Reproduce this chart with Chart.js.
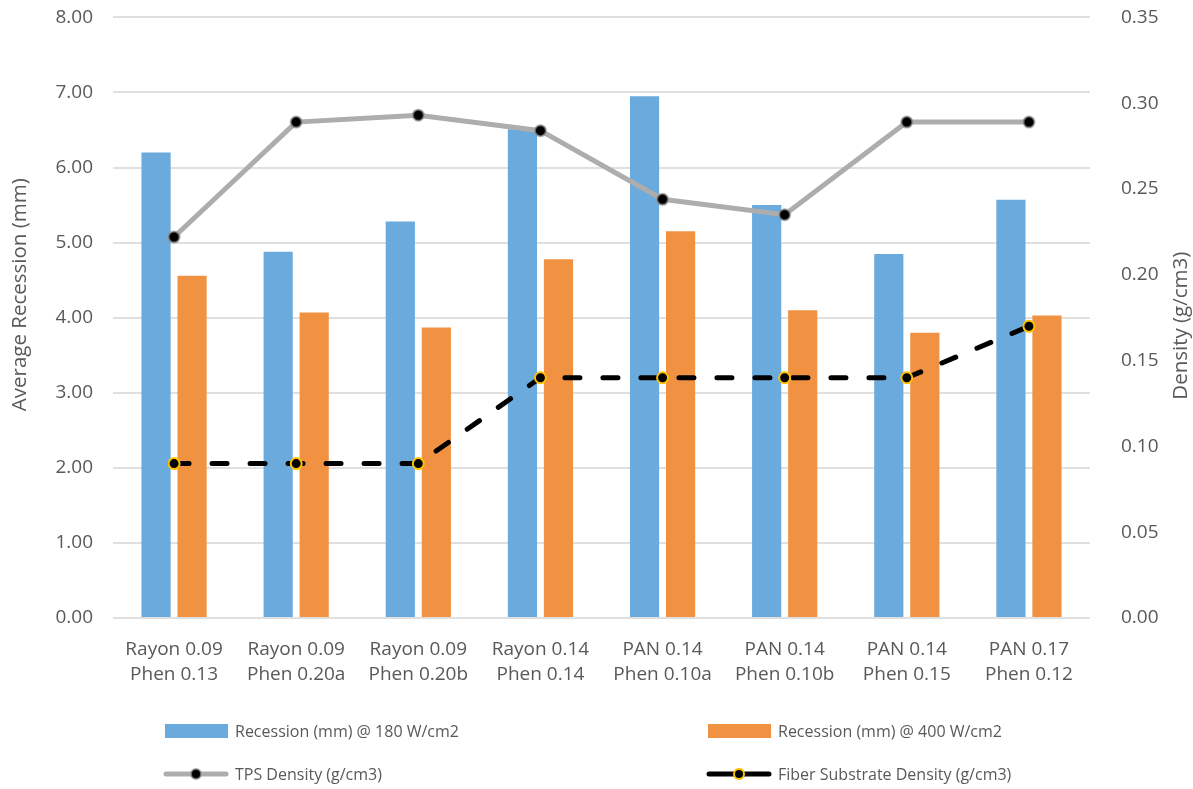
<!DOCTYPE html>
<html>
<head>
<meta charset="utf-8">
<script src="https://cdn.jsdelivr.net/npm/chart.js@4.4.1/dist/chart.umd.min.js"></script>
<style>
  body { margin: 0; background: #fff; }
  #wrap { position: relative; width: 1193px; height: 789px; overflow: hidden; }
  #chart { position: absolute; left: 0; top: -17px; }
  #legend { position: absolute; left: 0; top: 0; width: 1193px; height: 789px; pointer-events: none; }
  .item { position: absolute; display: flex; align-items: center; font: 16px "Open Sans", sans-serif; color: #595959; white-space: nowrap; }
  .item canvas { margin-right: 6px; }
</style>
</head>
<body>
<div id="wrap">
  <canvas id="chart" width="1193" height="717"></canvas>
  <div id="legend"></div>
</div>
<script>
const categories = [
  ["Rayon 0.09", "Phen 0.13"],
  ["Rayon 0.09", "Phen 0.20a"],
  ["Rayon 0.09", "Phen 0.20b"],
  ["Rayon 0.14", "Phen 0.14"],
  ["PAN 0.14", "Phen 0.10a"],
  ["PAN 0.14", "Phen 0.10b"],
  ["PAN 0.14", "Phen 0.15"],
  ["PAN 0.17", "Phen 0.12"],
];
const recession180 = [6.2, 4.88, 5.28, 6.51, 6.95, 5.5, 4.85, 5.57];
const recession400 = [4.56, 4.07, 3.87, 4.78, 5.15, 4.1, 3.8, 4.03];
const tpsDensity = [0.222, 0.289, 0.293, 0.284, 0.244, 0.235, 0.289, 0.289];
const fiberDensity = [0.09, 0.09, 0.09, 0.14, 0.14, 0.14, 0.14, 0.17];

const textColor = "#595959";
const font = { family: "'Open Sans', sans-serif", size: 19 };

// both axis titles read bottom-to-top; drawn by hand so they can sit where they should
function drawTitle(ctx, text, x, y) {
  ctx.save();
  ctx.translate(x, y);
  ctx.rotate(-Math.PI / 2);
  ctx.font = "20.5px 'Open Sans', sans-serif";
  ctx.fillStyle = textColor;
  ctx.textAlign = "center";
  ctx.textBaseline = "middle";
  ctx.fillText(text, 0, 0);
  ctx.restore();
}

const axisTitles = {
  id: "axisTitles",
  afterDraw(chart) {
    const mid = (chart.chartArea.top + chart.chartArea.bottom) / 2;
    drawTitle(chart.ctx, "Average Recession (mm)", 20, mid - 23);
    drawTitle(chart.ctx, "Density (g/cm3)", 1181, mid + 8);
  },
};

const ctx = document.getElementById("chart").getContext("2d");
const chart = new Chart(ctx, {
  type: "bar",
  data: {
    labels: categories,
    datasets: [
      {
        type: "line",
        label: "TPS Density (g/cm3)",
        data: tpsDensity,
        yAxisID: "y2",
        borderColor: "#adadad",
        borderWidth: 5,
        pointRadius: 5.5,
        pointBackgroundColor: "#000",
        pointBorderColor: "rgba(140,140,140,0.7)",
        pointBorderWidth: 2,
        order: 1,
      },
      {
        type: "line",
        label: "Fiber Substrate Density (g/cm3)",
        data: fiberDensity,
        yAxisID: "y2",
        borderColor: "#000",
        borderWidth: 5,
        borderDash: [15, 23],
        borderCapStyle: "round",
        pointRadius: 5.5,
        pointBackgroundColor: "#000",
        pointBorderColor: "#ffc000",
        pointBorderWidth: 2,
        order: 1,
      },
      {
        label: "Recession (mm) @ 180 W/cm2",
        data: recession180,
        backgroundColor: "#6aaadc",
        categoryPercentage: 0.59,
        barPercentage: 0.81,
        order: 3,
      },
      {
        label: "Recession (mm) @ 400 W/cm2",
        data: recession400,
        backgroundColor: "#f19142",
        categoryPercentage: 0.59,
        barPercentage: 0.81,
        order: 3,
      },
    ],
  },
  options: {
    responsive: false,
    animation: false,
    devicePixelRatio: 1,
    plugins: { legend: { display: false }, tooltip: { enabled: false } },
    scales: {
      x: {
        grid: { display: false },
        border: { display: false },
        ticks: { color: textColor, font: { ...font, lineHeight: 25 / 19 }, padding: 11, maxRotation: 0 },
        afterFit: (s) => { s.height = 82; },
      },
      y: {
        position: "left",
        min: 0,
        max: 8,
        grid: { color: "#e0e0e0", lineWidth: 2, drawTicks: false },
        border: { display: false },
        ticks: { stepSize: 1, color: textColor, font: font, padding: 20, callback: (v) => v.toFixed(2) },
        afterFit: (s) => { s.width = 113; },
      },
      y2: {
        position: "right",
        min: 0,
        max: 0.35,
        grid: { display: false },
        border: { display: false },
        ticks: { stepSize: 0.05, color: textColor, font: font, padding: 23, callback: (v) => v.toFixed(2) },
        afterFit: (s) => { s.width = 103; },
      },
    },
  },
  plugins: [axisTitles],
});

// legend laid out in two columns
const legendSpots = [
  { ds: 2, x: 163, y: 731 },
  { ds: 3, x: 706, y: 731 },
  { ds: 0, x: 163, y: 774 },
  { ds: 1, x: 706, y: 774 },
];
const legend = document.getElementById("legend");
legendSpots.forEach((spot) => {
  const ds = chart.data.datasets[spot.ds];
  const item = document.createElement("div");
  item.className = "item";
  item.style.left = spot.x + "px";
  item.style.top = spot.y - 12 + "px";
  item.style.height = "24px";
  const sw = document.createElement("canvas");
  sw.width = 66;
  sw.height = 24;
  const c = sw.getContext("2d");
  if (ds.type === "line") {
    c.strokeStyle = ds.borderColor;
    c.lineWidth = 5;
    c.lineCap = "round";
    c.beginPath();
    c.moveTo(3, 12);
    c.lineTo(63, 12);
    c.stroke();
    c.beginPath();
    c.arc(33, 12, 5, 0, Math.PI * 2);
    c.fillStyle = ds.pointBackgroundColor;
    c.fill();
    c.lineWidth = 2;
    c.strokeStyle = ds.pointBorderColor;
    c.stroke();
  } else {
    c.fillStyle = ds.backgroundColor;
    c.fillRect(2, 5, 63, 14);
  }
  item.appendChild(sw);
  const label = document.createElement("span");
  label.textContent = ds.label;
  item.appendChild(label);
  legend.appendChild(item);
});
</script>
</body>
</html>
